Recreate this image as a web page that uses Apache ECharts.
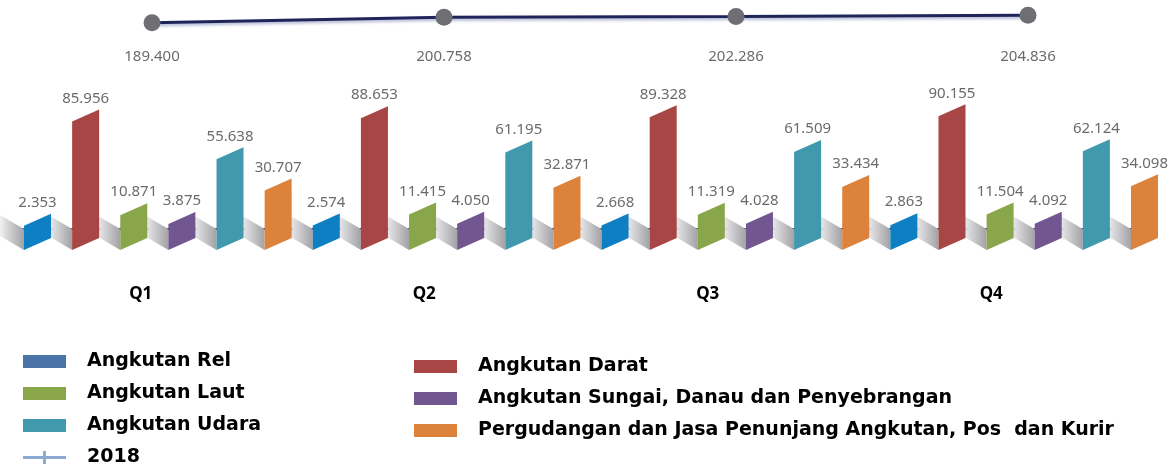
<!DOCTYPE html>
<html>
<head>
<meta charset="utf-8">
<script src="https://cdn.jsdelivr.net/npm/echarts@6/dist/echarts.min.js"></script>
<style>
  html, body { margin: 0; padding: 0; background: #fff; }
  #chart { width: 1174px; height: 468px; }
</style>
</head>
<body>
<div id="chart"></div>
<script>
  // data
  var quarters = ['Q1', 'Q2', 'Q3', 'Q4'];
  var seriesNames = [
    'Angkutan Rel',
    'Angkutan Darat',
    'Angkutan Laut',
    'Angkutan Sungai, Danau dan Penyebrangan',
    'Angkutan Udara',
    'Pergudangan dan Jasa Penunjang Angkutan, Pos  dan Kurir'
  ];
  var rel = [2.353, 2.574, 2.668, 2.863];
  var darat = [85.956, 88.653, 89.328, 90.155];
  var laut = [10.871, 11.415, 11.319, 11.504];
  var sungai = [3.875, 4.050, 4.028, 4.092];
  var udara = [55.638, 61.195, 61.509, 62.124];
  var gudang = [30.707, 32.871, 33.434, 34.098];
  var total2018 = [189.400, 200.758, 202.286, 204.836];

  var barColors = ['#0f7fc3', '#a74644', '#8aa64b', '#725690', '#4199ad', '#dc823b'];
  var legendColors = ['#4a73a8', '#a74644', '#8aa64b', '#725690', '#4199ad', '#dc823b'];
  var allValues = [rel, darat, laut, sungai, udara, gudang];

  var BW = 27;      // bar width
  var SLANT = 12;   // parallelogram slant
  var Y_MIN = -17;

  var chart = echarts.init(document.getElementById('chart'));

  function makeRender(si) {
    return function (params, api) {
      var ci = api.value(0);
      var v = api.value(1);
      var band = api.size([1, 0])[0];
      var center = api.coord([ci, 0])[0];
      var gridStart = center - band * ci - band / 2;
      var step = (band * quarters.length - BW) / (quarters.length * 6 - 1);
      var left = gridStart + 1 + (ci * 6 + si) * step;
      var top = api.coord([ci, v])[1];
      var base = api.coord([ci, Y_MIN])[1];
      var sw = 34, sh = 21, ss = 20;
      return {
        type: 'group',
        children: [{
          type: 'polygon',
          z2: 1,
          shape: { points: [[left, base], [left, base - sh], [left - sw, base - sh - ss], [left - sw, base - ss]] },
          style: {
            fill: new echarts.graphic.LinearGradient(0, 0, 1, 0, [
              { offset: 0, color: 'rgba(255,255,255,0)' },
              { offset: 0.45, color: 'rgba(222,222,224,1)' },
              { offset: 1, color: '#a2a2a6' }
            ])
          }
        }, {
          type: 'polygon',
          z2: 10,
          shape: { points: [[left, base], [left, top], [left + BW, top - SLANT], [left + BW, base - SLANT]] },
          style: { fill: barColors[si] }
        }, {
          type: 'text',
          z2: 11,
          x: left + BW / 2,
          y: top - SLANT - 11,
          style: {
            text: v.toFixed(3),
            align: 'center',
            verticalAlign: 'middle',
            fill: '#6b6b6b',
            font: '15px "Noto Sans"'
          }
        }]
      };
    };
  }

  var series = seriesNames.map(function (name, si) {
    return {
      name: name,
      type: 'custom',
      xAxisIndex: 0,
      yAxisIndex: 0,
      itemStyle: { color: legendColors[si] },
      renderItem: makeRender(si),
      encode: { x: 0, y: 1 },
      data: allValues[si].map(function (v, i) { return [i, v]; })
    };
  });

  series.push({
    name: '2018',
    type: 'line',
    xAxisIndex: 1,
    yAxisIndex: 1,
    data: total2018,
    symbol: 'circle',
    symbolSize: 17,
    itemStyle: { color: '#6e6e73' },
    lineStyle: {
      color: '#1f2558',
      width: 3,
      shadowColor: 'rgba(120,130,180,0.6)',
      shadowBlur: 3,
      shadowOffsetY: 2
    },
    z: 3
  });

  function legendItem(name, si) {
    return { name: name, icon: 'rect', itemStyle: { color: legendColors[si] } };
  }

  var legendText = {
    fontFamily: 'DejaVu Sans',
    fontSize: 19,
    fontWeight: 'bold',
    color: '#000',
    padding: [0, 0, 0, 16]
  };

  function legendBox(left, top, data) {
    return {
      orient: 'vertical',
      left: left,
      top: top,
      padding: 0,
      itemWidth: 43,
      itemHeight: 13,
      itemGap: 13,
      textStyle: legendText,
      data: data
    };
  }

  var option = {
    backgroundColor: '#fff',
    animation: false,
    grid: [
      { left: 23, right: 17, top: 104, bottom: 218 },
      { left: 6, right: 0, top: 8, height: 24 }
    ],
    xAxis: [{
      gridIndex: 0,
      type: 'category',
      data: quarters,
      axisLine: { lineStyle: { color: '#2b2f6b', width: 2 } },
      axisTick: { show: false },
      axisLabel: {
        margin: 36,
        padding: [0, 48, 0, 0],
        fontFamily: 'Noto Sans',
        fontSize: 17,
        fontWeight: 'bold',
        color: '#000'
      }
    }, {
      gridIndex: 1,
      type: 'category',
      data: quarters,
      axisLine: { show: false },
      axisTick: { show: false },
      axisLabel: {
        margin: 17,
        fontFamily: 'Noto Sans',
        fontSize: 15,
        color: '#6b6b6b',
        formatter: function (val, idx) { return total2018[idx].toFixed(3); }
      }
    }],
    yAxis: [{
      gridIndex: 0,
      type: 'value',
      min: Y_MIN,
      max: 100,
      show: false
    }, {
      gridIndex: 1,
      type: 'value',
      min: 170,
      max: 220,
      show: false
    }],
    legend: [
      legendBox(23, 352, [
        legendItem(seriesNames[0], 0),
        legendItem(seriesNames[2], 2),
        legendItem(seriesNames[4], 4)
      ]),
      legendBox(23, 448, [{
        name: '2018',
        icon: 'path://M0,5h43v3H0z M20,0h3v13h-3z',
        itemStyle: { color: '#8eaad4' }
      }]),
      legendBox(414, 357, [
        legendItem(seriesNames[1], 1),
        legendItem(seriesNames[3], 3),
        legendItem(seriesNames[5], 5)
      ])
    ],
    series: series
  };

  chart.setOption(option);
</script>
</body>
</html>
